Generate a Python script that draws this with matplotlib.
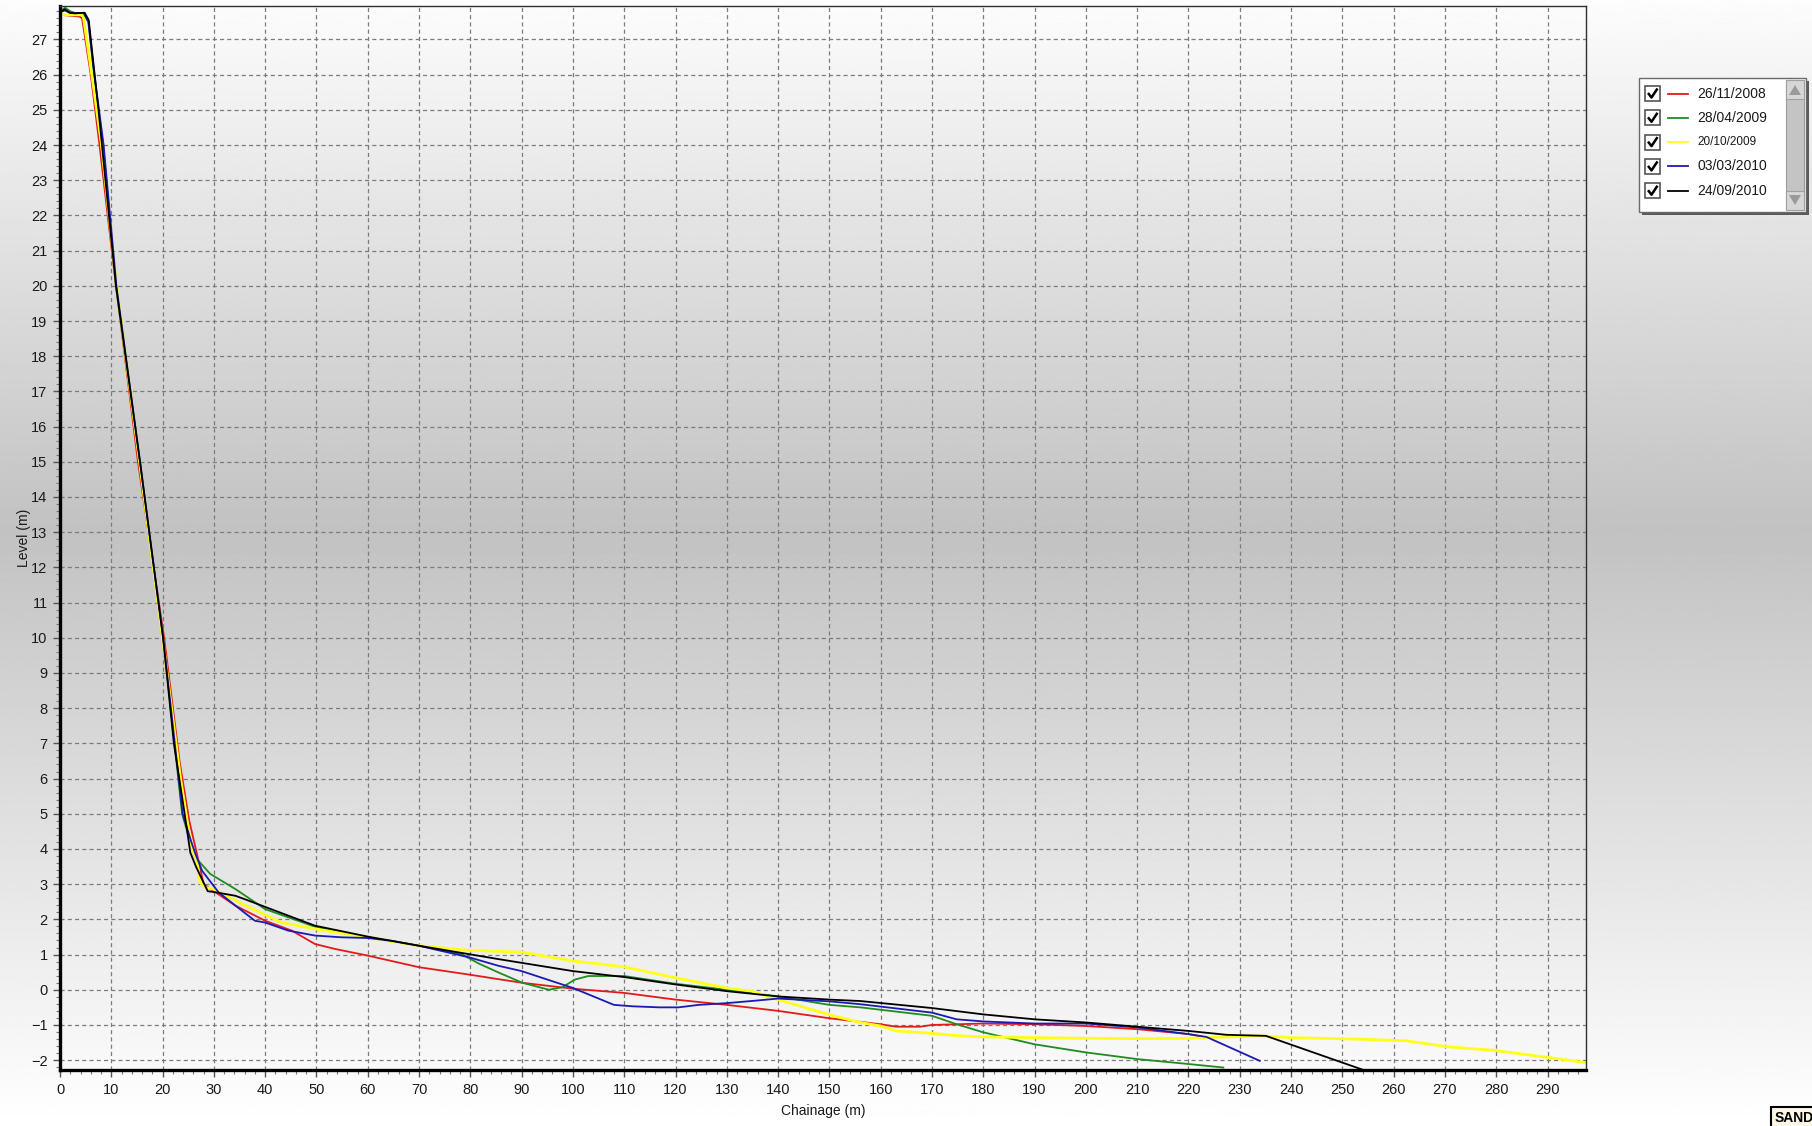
import numpy as np
import matplotlib.pyplot as plt
from matplotlib.ticker import MultipleLocator
from matplotlib.patches import Rectangle, Polygon

plt.rcParams['font.family'] = ['Liberation Sans', 'DejaVu Sans']

# survey dates and colours (legend order)
labels = ['26/11/2008', '28/04/2009', '20/10/2009', '03/03/2010', '24/09/2010']
colors = ['#e31a1a', '#1e8c1e', '#ffff1a', '#1a1ab4', '#000000']

# chainage (m) / level (m)
x_red = [0, 3.8, 4.3, 6.0, 7.7, 10.5, 15.2, 20.3, 23.3, 25.2, 26.7, 28, 30.3, 34.2, 40, 45.2,
         49.7, 53.6, 60, 70, 79.8, 85.5, 90, 100, 110, 120, 130, 140, 150, 160, 163, 167.7,
         170, 180, 190, 200, 210, 220, 222.9]
y_red = [27.7, 27.65, 27.6, 26, 24, 20.5, 15, 10, 6.5, 4.8, 3.86, 3.0, 2.77, 2.39, 1.96, 1.68,
         1.3, 1.16, 0.97, 0.64, 0.43, 0.3, 0.2, 0.03, -0.09, -0.28, -0.43, -0.6, -0.81, -0.98,
         -1.05, -1.05, -1.0, -0.96, -0.98, -1.03, -1.12, -1.26, -1.34]

x_green = [0, 1, 2, 3, 4.6, 5.6, 6.6, 8.4, 10.9, 15.5, 20.1, 23.8, 25.4, 26.4, 29.3, 34.2, 40,
           49.7, 60, 70, 78.3, 81.7, 85.5, 90.1, 95.3, 97.9, 100.4, 103, 110, 120, 130, 140,
           150, 156, 170, 174.8, 180, 190, 200, 210, 220, 226.8]
y_green = [27.8, 27.9, 27.8, 27.75, 27.75, 27.5, 26, 24, 20, 15, 10, 5, 4.2, 3.76, 3.29, 2.86,
           2.29, 1.79, 1.49, 1.25, 1.01, 0.74, 0.49, 0.2, 0.0, 0.07, 0.29, 0.39, 0.39, 0.17,
           0.0, -0.19, -0.43, -0.5, -0.74, -0.98, -1.21, -1.55, -1.78, -1.97, -2.11, -2.21]

x_yellow = [0, 2, 4.5, 6.2, 8.1, 11, 15.5, 20, 23.5, 25, 25.7, 26.7, 27.3, 28.3, 29.9, 35.5,
            43.2, 49.7, 60, 70, 79.8, 90, 100, 110, 120, 130, 134.9, 140, 150, 156, 160, 163,
            170, 175.5, 180, 190, 200, 210, 220, 227.4, 233.9, 239.7, 254.7, 262.5, 270.4,
            279.5, 290, 297.5]
y_yellow = [27.7, 27.7, 27.7, 26, 24, 20, 15, 10, 6, 4.6, 4.05, 3.67, 3.05, 2.91, 2.86, 2.44,
            1.91, 1.73, 1.49, 1.25, 1.12, 1.07, 0.82, 0.65, 0.34, 0.05, -0.04, -0.28, -0.71,
            -0.93, -1.03, -1.17, -1.24, -1.31, -1.34, -1.36, -1.38, -1.39, -1.38, -1.34, -1.31,
            -1.36, -1.41, -1.45, -1.62, -1.72, -1.92, -2.07]

x_blue = [0, 1, 2, 4.6, 5.5, 6.7, 8.5, 11, 15.6, 20.1, 23.9, 25.6, 26.4, 27.7, 30.9, 34.2, 38,
          40, 44.5, 49.7, 54.9, 60, 64.7, 70, 79.8, 85.5, 90, 100, 108, 111.6, 116.8, 120.6,
          124.5, 130, 135.6, 140, 150, 156, 170, 174.8, 180, 190, 200, 210, 220, 223.5, 233.9]
y_blue = [27.8, 27.82, 27.75, 27.75, 27.5, 26, 24, 20, 15, 10, 5, 4.2, 3.86, 3.38, 2.77, 2.39,
          1.96, 1.91, 1.68, 1.54, 1.49, 1.47, 1.39, 1.25, 0.92, 0.68, 0.53, 0.05, -0.43, -0.47,
          -0.5, -0.5, -0.43, -0.38, -0.31, -0.25, -0.33, -0.41, -0.65, -0.84, -0.9, -0.96,
          -0.96, -1.07, -1.26, -1.34, -2.02]

x_black = [0, 0.9, 1.9, 2.9, 4.8, 5.6, 7.5, 10.9, 15.6, 20.1, 22.2, 24.3, 25.4, 26.5, 28.8,
           30.3, 34.2, 36.8, 49.7, 60, 70, 79.8, 85.5, 100, 110, 120, 130, 140, 150, 156, 170,
           180, 190, 200, 210, 220, 227.4, 235.1, 255.5]
y_black = [27.75, 27.86, 27.76, 27.74, 27.76, 27.55, 25, 20, 15, 10, 7, 5, 3.9, 3.5, 2.8,
           2.77, 2.67, 2.53, 1.82, 1.51, 1.25, 1.01, 0.87, 0.53, 0.36, 0.15, -0.04, -0.19,
           -0.28, -0.32, -0.52, -0.7, -0.84, -0.93, -1.05, -1.17, -1.28, -1.31, -2.35]

series = [(x_red, y_red), (x_green, y_green), (x_yellow, y_yellow),
          (x_blue, y_blue), (x_black, y_black)]

W, H = 1812, 1126
fig = plt.figure(figsize=(W / 100, H / 100), dpi=100)

# grey gradient behind everything
bg = fig.add_axes([0, 0, 1, 1], zorder=-10)
t = np.linspace(0, 1, 600)
shade = np.interp(t, [0, 0.12, 0.47, 0.8, 1.0], [0.99, 0.93, 0.76, 0.91, 1.0])
bg.imshow(shade[:, None], cmap='gray', vmin=0, vmax=1, aspect='auto', extent=[0, 1, 0, 1])
bg.axis('off')

ax = fig.add_axes([60 / W, 1 - 1070 / H, 1526 / W, 1064 / H])
ax.set_facecolor('none')
for (xs, ys), c, lab in zip(series, colors, labels):
    ax.plot(xs, ys, color=c, lw=2.0 if c == '#ffff1a' else 1.3, label=lab)

ax.set_xlim(0, 297.5)
ax.set_ylim(-2.28, 27.95)
ax.xaxis.set_major_locator(MultipleLocator(10))
ax.xaxis.set_minor_locator(MultipleLocator(2))
ax.yaxis.set_major_locator(MultipleLocator(1))
ax.yaxis.set_minor_locator(MultipleLocator(0.2))
ax.grid(which='major', color='#7c7c7c', linestyle=(0, (3.3, 2.5)), linewidth=0.9)
ax.set_axisbelow(True)

for s in ['left', 'bottom']:
    ax.spines[s].set_linewidth(2.4)
    ax.spines[s].set_color('black')
for s in ['top', 'right']:
    ax.spines[s].set_linewidth(1.0)
    ax.spines[s].set_color('#303030')

ax.tick_params(which='major', direction='out', length=5, width=1, color='#555555',
               labelsize=10.5, labelcolor='#1a1a1a', pad=4)
ax.tick_params(which='minor', direction='out', length=3, width=0.8, color='#777777')

ax.set_ylabel('Level (m)', fontsize=10, color='#1a1a1a')
ax.yaxis.set_label_coords(-0.019, 0.5)
ax.set_xlabel('Chainage (m)', fontsize=10, color='#1a1a1a')
ax.xaxis.set_label_coords(0.5, -0.032)

# overlay in pixel coordinates for the legend panel and the corner tag
ov = fig.add_axes([0, 0, 1, 1], zorder=5)
ov.set_xlim(0, W)
ov.set_ylim(H, 0)
ov.axis('off')

lx, ly, lw_, lh = 1639, 78, 167, 134
ov.add_patch(Rectangle((lx + 3, ly + 3), lw_, lh, fc='#5a5a5a', ec='none'))
ov.add_patch(Rectangle((lx, ly), lw_, lh, fc='white', ec='#6a6a6a', lw=1))
# scrollbar
sx = lx + lw_ - 20
ov.add_patch(Rectangle((sx, ly + 2), 18, lh - 4, fc='#c4c4c4', ec='#9c9c9c', lw=0.8))
ov.add_patch(Rectangle((sx, ly + 2), 18, 19, fc='#d6d6d6', ec='#a0a0a0', lw=0.8))
ov.add_patch(Rectangle((sx, ly + lh - 21), 18, 19, fc='#d6d6d6', ec='#a0a0a0', lw=0.8))
ov.add_patch(Polygon([(sx + 3, ly + 17), (sx + 15, ly + 17), (sx + 9, ly + 7)],
                     fc='#9a9a9a', ec='none'))
ov.add_patch(Polygon([(sx + 3, ly + lh - 17), (sx + 15, ly + lh - 17), (sx + 9, ly + lh - 7)],
                     fc='#9a9a9a', ec='none'))

for i, (lab, c) in enumerate(zip(labels, colors)):
    yy = ly + 15.5 + i * 24.3
    ov.add_patch(Rectangle((lx + 6, yy - 7.5), 15, 15, fc='white', ec='#555555', lw=1.2))
    ov.plot([lx + 9, lx + 12.5, lx + 18.5], [yy - 0.5, yy + 4, yy - 5], color='black', lw=1.8,
            solid_capstyle='butt')
    ov.plot([lx + 29, lx + 49], [yy, yy], color=c, lw=1.3)
    ov.text(lx + 58, yy, lab, va='center', ha='left',
            fontsize=8.5 if lab == '20/10/2009' else 10, color='#1a1a1a')

# clipped tag in the bottom right corner
ov.add_patch(Rectangle((1771, 1107), 60, 24, fc='#fbf7e4', ec='black', lw=1.5, clip_on=False))
ov.text(1775, 1118, 'SAND', fontsize=10, fontweight='bold', va='center', ha='left',
        color='black')

fig.savefig('out.png', dpi=100)
